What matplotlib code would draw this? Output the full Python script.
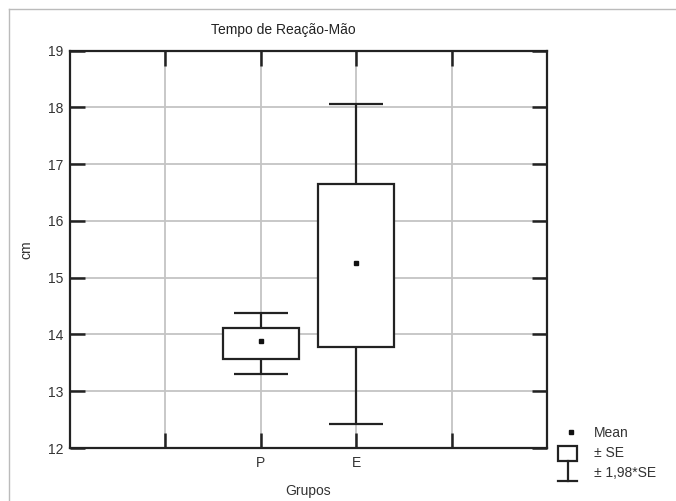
import matplotlib
matplotlib.use("Agg")
from matplotlib import pyplot as plt
from matplotlib.patches import Rectangle

plt.rcParams['font.family'] = ['Liberation Sans', 'DejaVu Sans']

# data
groups = ['P', 'E']
positions = [2, 3]
means = [13.88, 15.26]
se_low = [13.57, 13.78]
se_high = [14.11, 16.65]
ci_low = [13.30, 12.43]
ci_high = [14.38, 18.05]

xtick_pos = [1, 2, 3, 4]
xtick_labels = ['', 'P', 'E', '']
ytick_pos = [12, 13, 14, 15, 16, 17, 18, 19]

W, H = 676, 501
dark = '#222222'
grid_col = '#c4c4c4'

fig = plt.figure(figsize=(W / 100, H / 100), dpi=100)
fig.patch.set_facecolor('white')

ax = fig.add_axes([70 / W, 1 - 448 / H, (547 - 70) / W, (448 - 50.5) / H])
ax.set_xlim(0, 5)
ax.set_ylim(12, 19)
ax.set_xticks(xtick_pos)
ax.set_xticklabels(xtick_labels)
ax.set_yticks(ytick_pos)
ax.grid(True, color=grid_col, linewidth=1.3, zorder=0)
ax.set_axisbelow(True)
ax.tick_params(direction='in', length=11, width=1.8, color=dark,
               top=True, right=True, labelsize=10, colors='#333333')
ax.tick_params(axis='x', pad=6)
ax.tick_params(axis='y', pad=5)
for sp in ax.spines.values():
    sp.set_linewidth(1.6)
    sp.set_color(dark)

# whiskers (+-1.98*SE)
ax.vlines(positions, ci_low, ci_high, color=dark, linewidth=1.6, zorder=2)
ax.hlines(ci_low, [p - 0.28 for p in positions], [p + 0.28 for p in positions],
          color=dark, linewidth=1.6, zorder=2)
ax.hlines(ci_high, [p - 0.28 for p in positions], [p + 0.28 for p in positions],
          color=dark, linewidth=1.6, zorder=2)
# boxes (+-SE)
ax.bar(positions, [h - l for h, l in zip(se_high, se_low)], bottom=se_low,
       width=0.8, color='white', edgecolor=dark, linewidth=1.6, zorder=3)
# means
ax.plot(positions, means, 's', color='#111111', markersize=3, zorder=4)

ax.set_xlabel('Grupos', fontsize=10, color='#333333', labelpad=10)
ax.set_ylabel('cm', fontsize=10, color='#333333', labelpad=10)
fig.text(283 / W, 1 - 30 / H, 'Tempo de Reação-Mão', ha='center', va='center',
         fontsize=10, color='#222222')

# overlay in pixel coords: outer frame and legend
ov = fig.add_axes([0, 0, 1, 1], zorder=5)
ov.set_xlim(0, W)
ov.set_ylim(H, 0)
ov.axis('off')
ov.patch.set_alpha(0)
ov.plot([9, 9], [9, H], color='#bbbbbb', linewidth=1)
ov.plot([9, W], [9, 9], color='#bbbbbb', linewidth=1)

ov.plot([571], [432], 's', color='#111111', markersize=3)
ov.text(594, 433, 'Mean', fontsize=10, va='center', color='#333333')
ov.add_patch(Rectangle((558, 446), 19, 15, fill=False, edgecolor=dark, linewidth=1.6))
ov.text(594, 453, '± SE', fontsize=10, va='center', color='#333333')
ov.plot([567.5, 567.5], [461, 481], color=dark, linewidth=1.6)
ov.plot([558, 577], [481, 481], color=dark, linewidth=1.6)
ov.text(594, 473, '± 1,98*SE', fontsize=10, va='center', color='#333333')

fig.savefig('out.png', dpi=100)
